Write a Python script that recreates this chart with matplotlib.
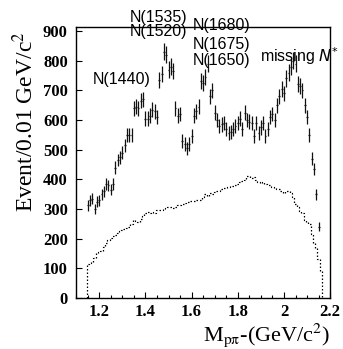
import numpy as np
import matplotlib

matplotlib.use("Agg")
import matplotlib.pyplot as plt
from matplotlib.ticker import MultipleLocator, FuncFormatter

plt.rcParams["mathtext.fontset"] = "stix"

# p pi- invariant mass, 0.01 GeV bins
mass = np.linspace(1.15, 2.15, 101)
events = np.array([
    312, 330, 335, 300, 325, 330, 350, 360, 385, 380,
    365, 385, 440, 465, 475, 490, 515, 550, 550, 550,
    640, 645, 640, 665, 670, 605, 605, 615, 635, 630,
    610, 735, 755, 830, 820, 770, 780, 765, 640, 615,
    620, 530, 520, 505, 520, 545, 615, 630, 645, 730,
    725, 745, 790, 680, 700, 625, 600, 580, 585, 590,
    570, 555, 560, 570, 580, 590, 605, 570, 625, 600,
    595, 590, 545, 590, 555, 575, 590, 545, 570, 610,
    620, 600, 650, 680, 705, 690, 740, 760, 780, 800,
    790, 720, 715, 700, 650, 610, 550, 470, 435, 350,
    240,
])

# phase space histogram (dotted)
phase_edges = np.linspace(1.145, 2.165, 103)
phase_space = np.array([
    115, 118, 122, 135, 152, 156, 160, 172, 185, 195,
    203, 208, 212, 220, 225, 231, 234, 236, 238, 250,
    264, 260, 256, 265, 275, 285, 290, 288, 290, 288,
    296, 298, 298, 300, 302, 306, 307, 304, 306, 312,
    315, 318, 322, 324, 325, 326, 326, 330, 332, 332,
    340, 350, 345, 355, 352, 358, 360, 362, 368, 372,
    372, 375, 378, 376, 382, 385, 390, 395, 398, 410,
    412, 405, 408, 398, 390, 388, 390, 386, 382, 380,
    375, 372, 368, 368, 362, 355, 360, 362, 355, 340,
    318, 306, 295, 285, 262, 258, 250, 215, 185, 170,
    130, 90,
])

labels = ["N(1535)", "N(1520)", "N(1680)", "N(1675)", "N(1650)", "N(1440)"]
label_x = [1.457, 1.457, 1.728, 1.728, 1.728, 1.297]
label_y = [947, 898, 918, 856, 799, 736]

fig = plt.figure(figsize=(3.43, 3.49), dpi=100)
ax = fig.add_axes([0.222, 0.146, 0.7405, 0.777])

ax.stairs(phase_space, phase_edges, baseline=0, color="black", lw=0.9,
          linestyle=(0, (1.2, 1.6)))
ax.errorbar(mass, events, yerr=np.sqrt(events), xerr=0.004, fmt="none",
            ecolor="#111111", elinewidth=0.9)

ax.set_xlim(1.1, 2.2)
ax.set_ylim(0, 914)
ax.xaxis.set_major_locator(MultipleLocator(0.2))
ax.xaxis.set_minor_locator(MultipleLocator(0.05))
ax.yaxis.set_major_locator(MultipleLocator(100))
ax.xaxis.set_major_formatter(FuncFormatter(lambda v, p: "%g" % round(v, 2)))
ax.tick_params(which="both", direction="in", top=False, right=False, width=0.8)
ax.tick_params(which="major", length=4.5)
ax.tick_params(which="minor", length=2.5)
ax.tick_params(axis="x", pad=4)
ax.tick_params(axis="y", pad=6)
for t in ax.get_xticklabels() + ax.get_yticklabels():
    t.set_fontfamily("Liberation Serif")
    t.set_fontweight("bold")
    t.set_fontsize(12)
for s in ax.spines.values():
    s.set_linewidth(1.0)

for text, x, y in zip(labels, label_x, label_y):
    ax.text(x, y, text, ha="center", va="center", fontsize=11.5,
            family="Liberation Sans", clip_on=False)
ax.text(1.897, 814, "missing $N^{*}$", ha="left", va="center", fontsize=11.5,
        family="Liberation Sans", math_fontfamily="dejavusans", clip_on=False)

ax.set_xlabel(r"M$_{\mathrm{p\pi}}$-(GeV/c$^{2}$)", loc="right",
              fontsize=16, family="Liberation Serif", labelpad=1)
fig.text(25 / 343, 1 - 122 / 349, "Event/0.01 GeV/c$^{2}$", rotation=90,
         ha="center", va="center", fontsize=17, family="Liberation Serif")

fig.savefig("out.png", dpi=100)
